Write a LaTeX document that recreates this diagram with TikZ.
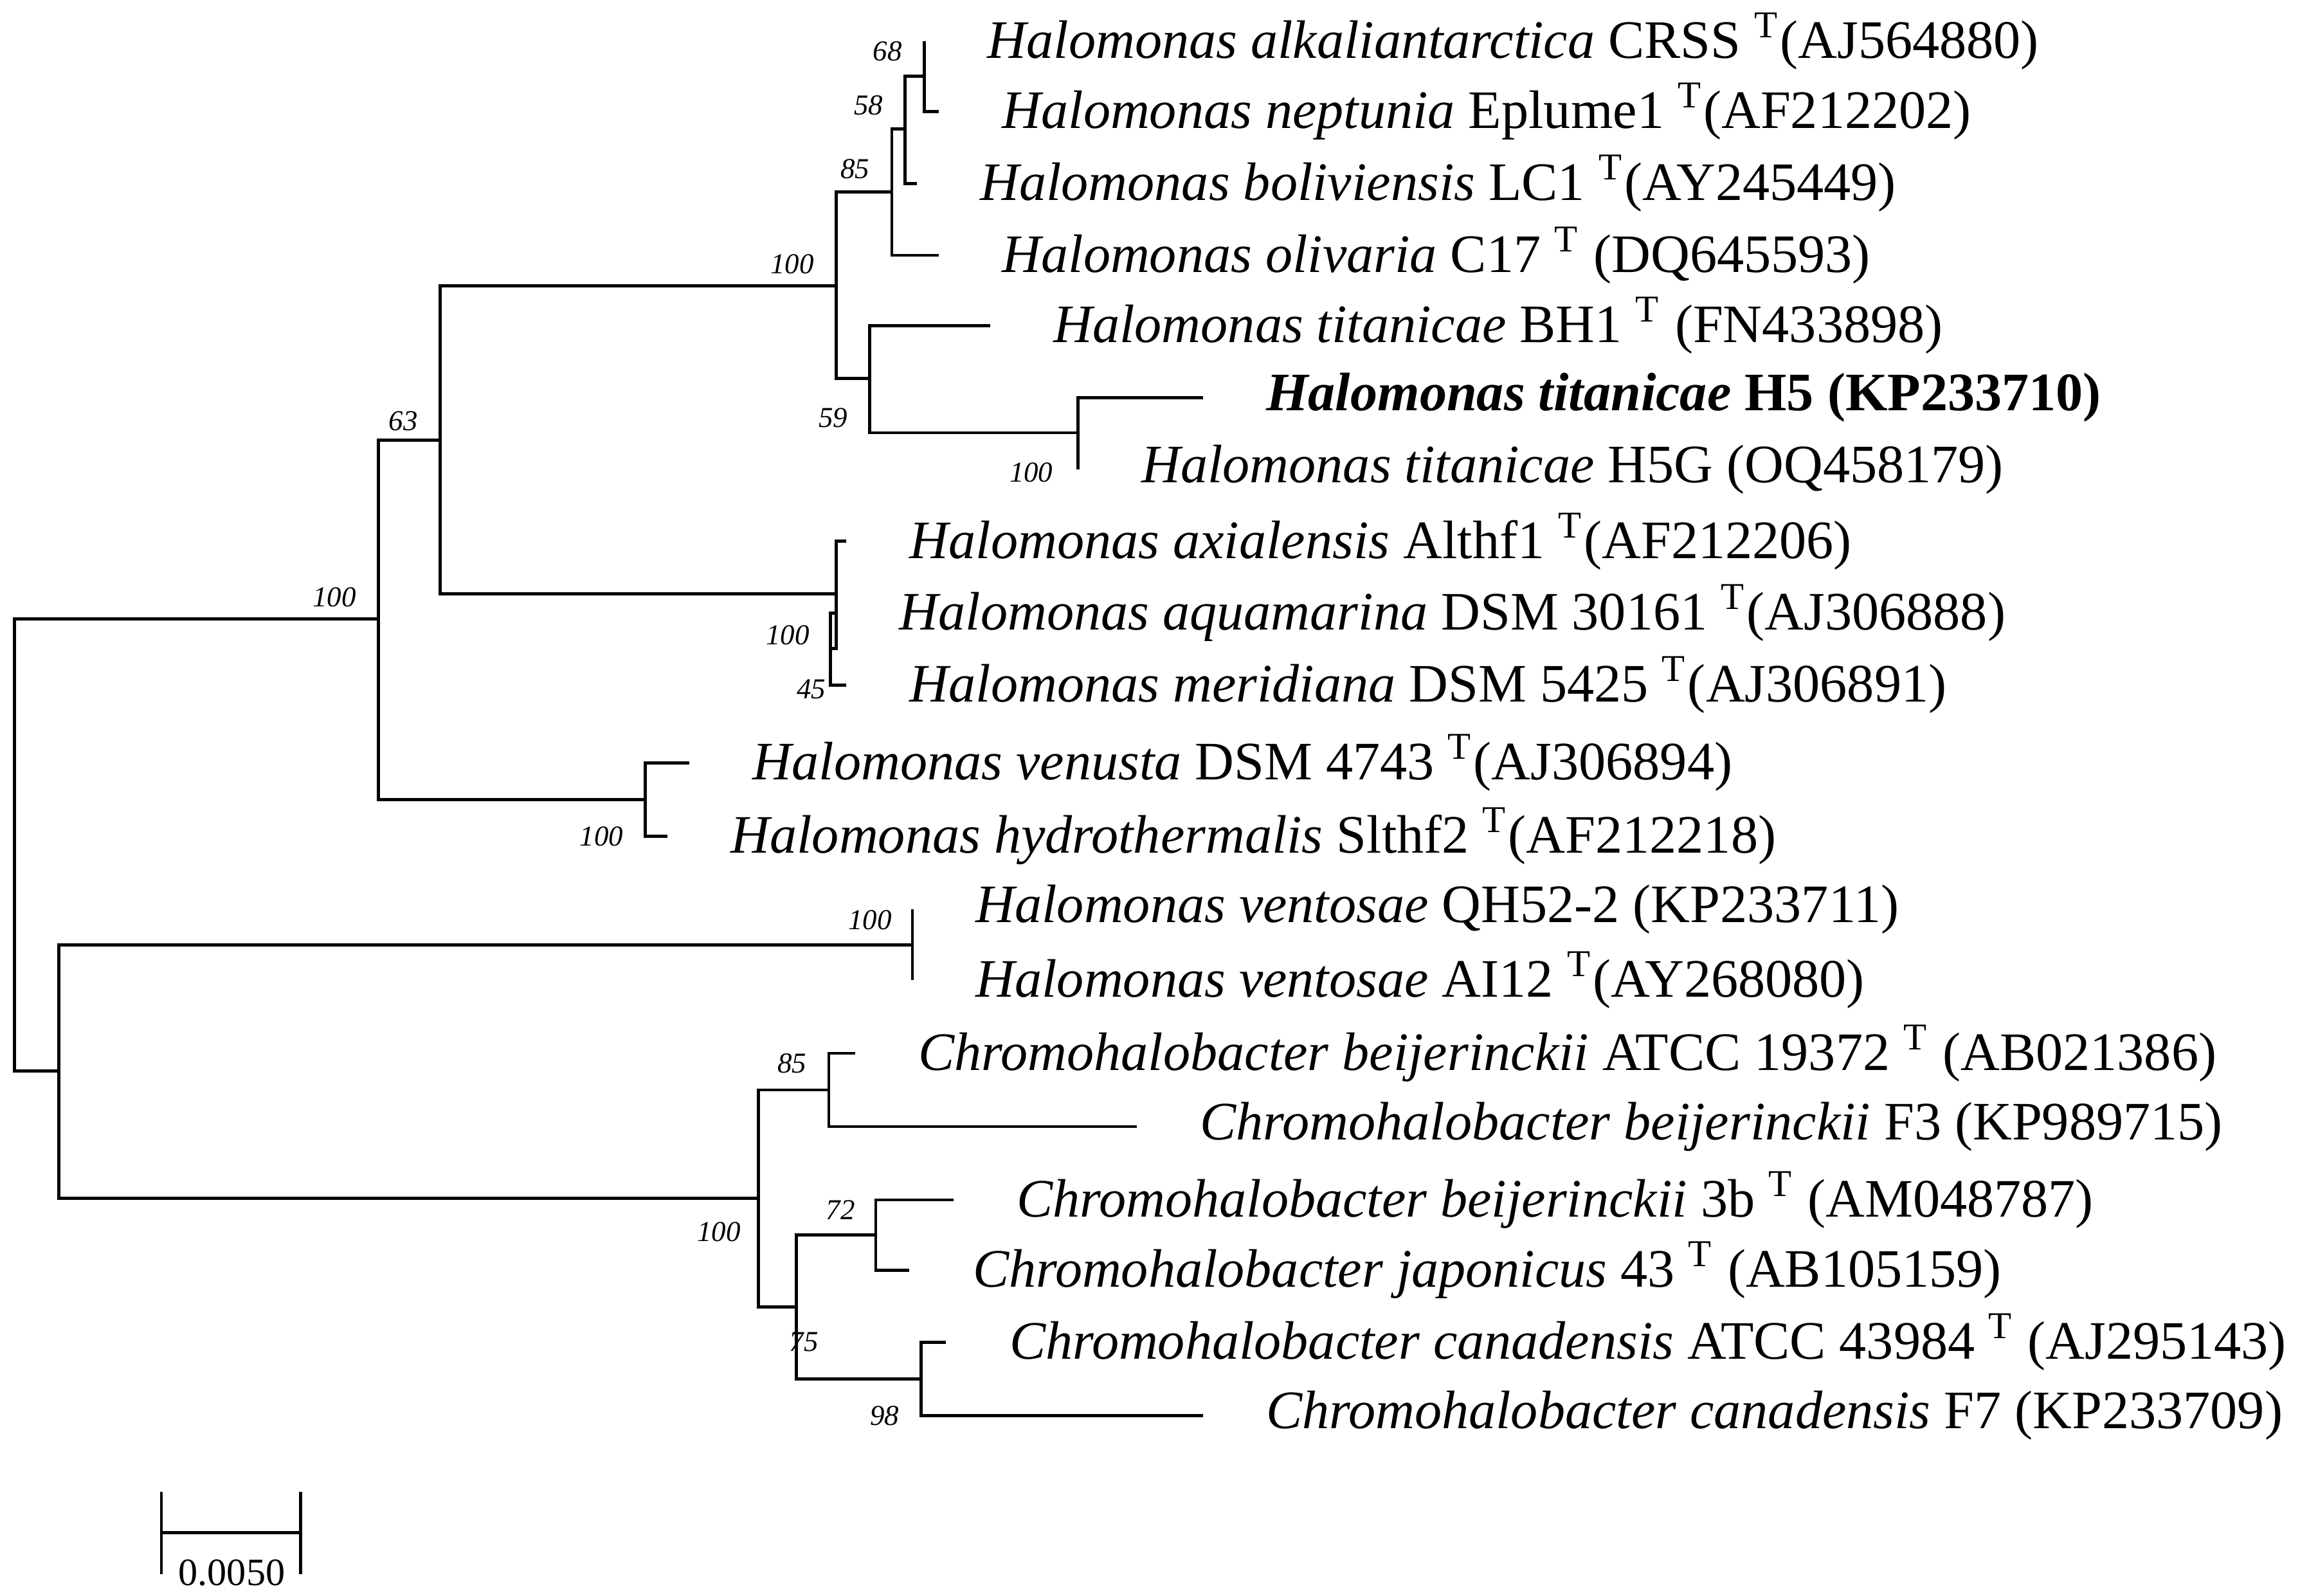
\documentclass[tikz,border=0pt]{standalone}
\usepackage{fontspec}
\setmainfont{Liberation Serif}
\begin{document}
\begin{tikzpicture}[x=0.01cm,y=-0.01cm,line width=0.6pt,
 lf/.style={anchor=west,font=\fontsize{10.5}{12}\selectfont,inner sep=0pt},
 bs/.style={font=\fontsize{5.6}{6}\selectfont\itshape,inner sep=1pt}]
\useasboundingbox (0,0) rectangle (1568,1088);
% leaves
\foreach \n/\x/\y in {1/630/28,2/640/76,3/625/125,4/640/174,5/675/222,6/820/271,7/735/320,8/577/369,9/570/418,10/577/467,11/470/520,12/455/570,13/622/620,14/622/668,15/583/718,16/775/768,17/650/818,18/620/866,19/645/915,20/820/965}
  \coordinate (l\n) at (\x,\y);
% internal
\coordinate (a12) at (630,52);
\coordinate (a123) at (617,88);
\coordinate (a1234) at (608,131);
\coordinate (a67) at (735,295);
\coordinate (a567) at (593,258);
\coordinate (a17) at (570,195);
\coordinate (a910) at (566,442);
\coordinate (a810) at (570,405);
\coordinate (a110) at (300,300);
\coordinate (a1112) at (440,545);
\coordinate (a112) at (258,422);
\coordinate (a1314) at (622,644);
\coordinate (a1516) at (565,743);
\coordinate (a1718) at (597,842);
\coordinate (a1920) at (628,940);
\coordinate (a1720) at (543,891);
\coordinate (a1520) at (517,817);
\coordinate (a1320) at (40,730);
\coordinate (root) at (10,576);
\foreach \p/\c in {a12/l1,a12/l2,a123/a12,a123/l3,a1234/a123,a1234/l4,a67/l6,a67/l7,a567/l5,a567/a67,a17/a1234,a17/a567,a910/l9,a910/l10,a810/l8,a810/a910,a110/a17,a110/a810,a1112/l11,a1112/l12,a112/a110,a112/a1112,a1314/l13,a1314/l14,a1516/l15,a1516/l16,a1718/l17,a1718/l18,a1920/l19,a1920/l20,a1720/a1718,a1720/a1920,a1520/a1516,a1520/a1720,a1320/a1314,a1320/a1520,root/a112,root/a1320}
  \draw (\p) |- (\c);
% labels
\newcommand\T{\textsuperscript{T}}
\node[lf] (t1) at ([xshift=12]l1) {\textit{Halomonas alkaliantarctica} CRSS \T(AJ564880)};
\node[lf] (t2) at ([xshift=12]l2) {\textit{Halomonas neptunia} Eplume1 \T(AF212202)};
\node[lf] (t3) at ([xshift=12]l3) {\textit{Halomonas boliviensis} LC1 \T(AY245449)};
\node[lf] (t4) at ([xshift=12]l4) {\textit{Halomonas olivaria} C17 \T{} (DQ645593)};
\node[lf] (t5) at ([xshift=12]l5) {\textit{Halomonas titanicae} BH1 \T{} (FN433898)};
\node[lf] (t6) at ([xshift=12]l6) {\textbf{\textit{Halomonas titanicae} H5 (KP233710)}};
\node[lf] (t7) at ([xshift=12]l7) {\textit{Halomonas titanicae} H5G (OQ458179)};
\node[lf] (t8) at ([xshift=12]l8) {\textit{Halomonas axialensis} Althf1 \T(AF212206)};
\node[lf] (t9) at ([xshift=12]l9) {\textit{Halomonas aquamarina} DSM 30161 \T(AJ306888)};
\node[lf] (t10) at ([xshift=12]l10) {\textit{Halomonas meridiana} DSM 5425 \T(AJ306891)};
\node[lf] (t11) at ([xshift=12]l11) {\textit{Halomonas venusta} DSM 4743 \T(AJ306894)};
\node[lf] (t12) at ([xshift=12]l12) {\textit{Halomonas hydrothermalis} Slthf2 \T(AF212218)};
\node[lf] (t13) at ([xshift=12]l13) {\textit{Halomonas ventosae} QH52-2 (KP233711)};
\node[lf] (t14) at ([xshift=12]l14) {\textit{Halomonas ventosae} AI12 \T(AY268080)};
\node[lf] (t15) at ([xshift=12]l15) {\textit{Chromohalobacter beijerinckii} ATCC 19372 \T{} (AB021386)};
\node[lf] (t16) at ([xshift=12]l16) {\textit{Chromohalobacter beijerinckii} F3 (KP989715)};
\node[lf] (t17) at ([xshift=12]l17) {\textit{Chromohalobacter beijerinckii} 3b \T{} (AM048787)};
\node[lf] (t18) at ([xshift=12]l18) {\textit{Chromohalobacter japonicus} 43 \T{} (AB105159)};
\node[lf] (t19) at ([xshift=12]l19) {\textit{Chromohalobacter canadensis} ATCC 43984 \T{} (AJ295143)};
\node[lf] (t20) at ([xshift=12]l20) {\textit{Chromohalobacter canadensis} F7 (KP233709)};
% bootstrap
\foreach \x/\y/\t in {605/35/68,592/72/58,583/115/85,540/180/100,568/285/59,703/322/100,275/287/63,537/433/100,553/470/45,228/407/100,410/570/100,593/627/100,540/725/85,573/825/72,490/840/100,548/915/75,603/965/98}
  \node[bs] at (\x,\y) {\t};
% scale bar
\coordinate (s1) at (110,1045); \coordinate (s2) at (205,1045);
\draw (s1) -- (s2); \draw ([yshift=-8]s1) -- ([yshift=8]s1); \draw ([yshift=-8]s2) -- ([yshift=8]s2);
\node[font=\fontsize{7.5}{8}\selectfont] (sl) at (158,1072) {0.0050};
\end{tikzpicture}
\end{document}
